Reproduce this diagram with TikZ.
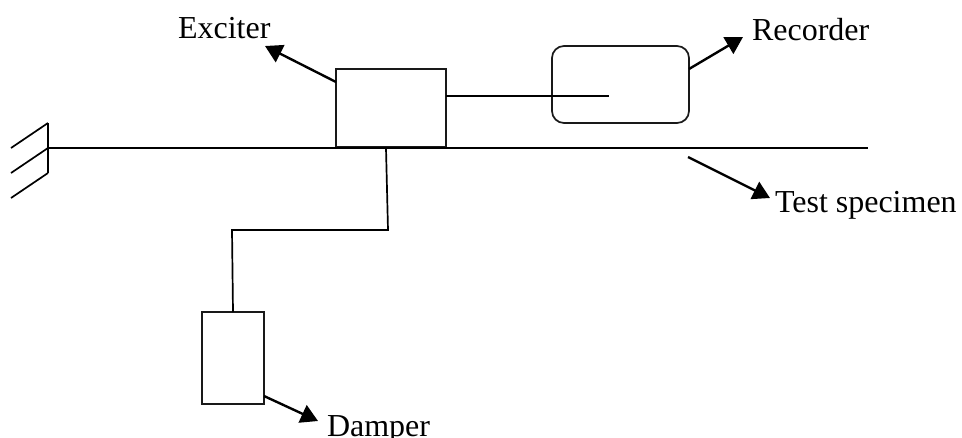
\documentclass[tikz,border=0pt]{standalone}
\usepackage{fontspec}
\setmainfont{Liberation Serif}
\usetikzlibrary{arrows.meta}
\tikzset{
  x=1pt,y=-1pt,
  boxn/.style={draw=black!90,line width=1.7pt,rectangle,inner sep=0pt,outer sep=0pt},
  lbl/.style={font=\fontsize{32}{36}\selectfont,text=black,inner sep=0pt,outer sep=0pt,anchor=base west},
  conn/.style={draw=black,line width=1.7pt},
  beam/.style={draw=black,line width=2pt},
  pointer/.style={draw=black,line width=2.4pt,-{Triangle[length=17pt,width=19pt]}},
}
\begin{document}
\begin{tikzpicture}
\useasboundingbox (0,0) rectangle (962,437);
\node[boxn,minimum width=110pt,minimum height=78pt] (exciter) at (391,108) {};
\node[boxn,rounded corners=12pt,minimum width=137pt,minimum height=77pt] (recorder) at (620.5,84.5) {};
\node[boxn,minimum width=62pt,minimum height=92pt] (damper) at (233,358) {};
\node[lbl] (lexc) at (178,38) {Exciter};
\node[lbl] (lrec) at (752,40) {Recorder};
\node[lbl] (ltest) at (775,212) {Test specimen};
\node[lbl] (ldam) at (327,436) {Damper};
% beam and wall
\coordinate (w1) at (48,123);
\coordinate (w2) at (48,148);
\coordinate (w3) at (48,173);
\coordinate (h1) at (11,148);
\coordinate (h2) at (11,173);
\coordinate (h3) at (11,198);
\coordinate (bend) at (868,148);
\draw[beam] (w2) -- (bend);
\draw[conn] (w1) -- (w3);
\draw[conn] (w1) -- (h1);
\draw[conn] (w2) -- (h2);
\draw[conn] (w3) -- (h3);
% exciter to recorder
\coordinate (sigstart) at (446,96);
\coordinate (sigend) at (609,96);
\draw[conn,line width=1.4pt] (sigstart) -- (sigend);
% exciter to damper
\coordinate (d0) at (386,148);
\coordinate (d1) at (388,230);
\coordinate (d2) at (232,230);
\draw[conn] (d0) -- (d1) -- (d2) -- (damper.north);
% pointers
\coordinate (pexs) at (336,82);
\coordinate (pext) at (265,46);
\draw[pointer] (pexs) -- (pext);
\coordinate (pres) at (689,69);
\coordinate (pret) at (743,37);
\draw[pointer] (pres) -- (pret);
\coordinate (ptes) at (688,157);
\coordinate (ptet) at (770,198);
\draw[pointer] (ptes) -- (ptet);
\coordinate (pdas) at (264,396);
\coordinate (pdat) at (318,421);
\draw[pointer] (pdas) -- (pdat);
\end{tikzpicture}
\end{document}
